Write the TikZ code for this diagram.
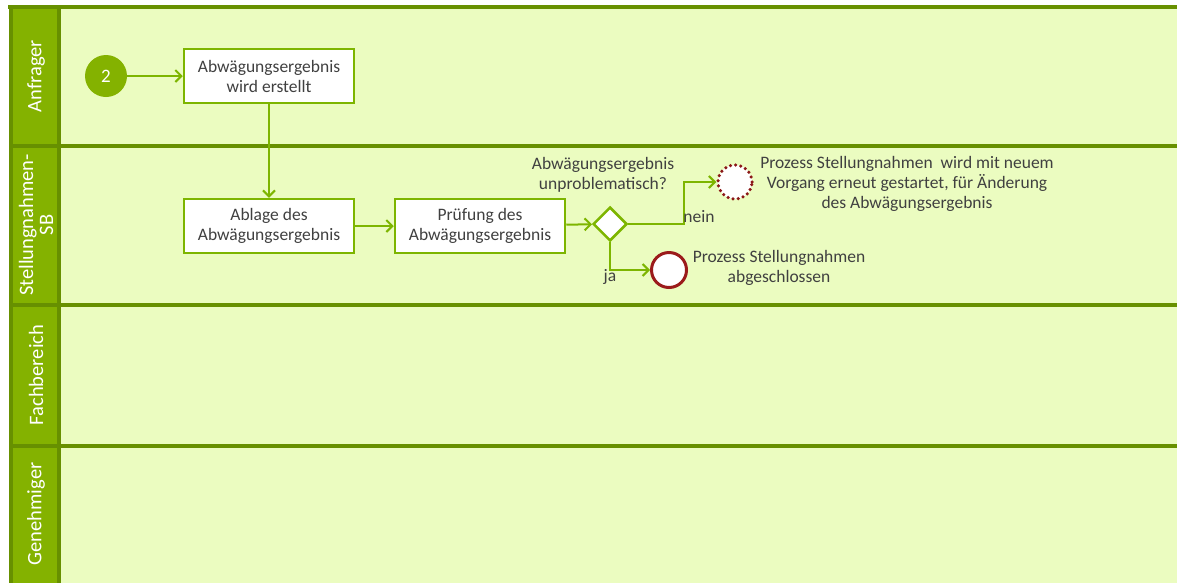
\documentclass[tikz,border=0pt]{standalone}
\usepackage{fontspec}
\setmainfont{Carlito}
\usepackage{xcolor}
\usetikzlibrary{shapes.geometric,arrows.meta,positioning}
\definecolor{lanefill}{HTML}{EBFCC0}
\definecolor{headfill}{HTML}{84B200}
\definecolor{laneline}{HTML}{679000}
\definecolor{flowgreen}{HTML}{7DB500}
\definecolor{endred}{HTML}{9B1B1B}
\definecolor{textgrey}{HTML}{404040}
\tikzstyle{task} = [rectangle, draw=flowgreen, line width=2.5pt, fill=white,
    minimum width=170pt, minimum height=54pt, align=center, text=textgrey,
    font=\fontsize{17.5}{20}\selectfont]
\tikzstyle{gate} = [diamond, draw=flowgreen, line width=2.5pt, fill=white,
    minimum width=34pt, minimum height=34pt, inner sep=0pt]
\tikzstyle{startev} = [circle, fill=headfill, minimum size=42pt, inner sep=0pt,
    text=white, font=\fontsize{19}{20}\selectfont]
\tikzstyle{endev} = [circle, draw=endred, line width=3pt, fill=white,
    minimum size=35pt, inner sep=0pt]
\tikzstyle{label} = [align=center, text=textgrey, font=\fontsize{17.5}{20}\selectfont]
\tikzstyle{lanehead} = [rotate=90, align=center, text=white,
    font=\fontsize{20.5}{20}\selectfont]
\tikzstyle{line} = [draw=flowgreen, line width=2pt,
    -{Straight Barb[length=6pt,width=12pt,line width=2pt]}]

\begin{document}
\begin{tikzpicture}[x=1pt, y=-1pt]
    \useasboundingbox (0,0) rectangle (1177,582);
    % Lanes
    \fill [lanefill] (10,7) rectangle (1190,590);
    \fill [headfill] (10,7) rectangle (59,590);
    \foreach \y in {146,305,446}
        \draw [laneline, line width=4pt] (10,\y) -- (1190,\y);
    \draw [laneline, line width=4pt] (8,7) -- (1190,7);
    \draw [laneline, line width=3.5pt] (11,7) -- (11,590);
    \draw [laneline, line width=3.5pt] (59,7) -- (59,590);

    \node [lanehead] (lane_1) at (36,76) {Anfrager};
    \node [lanehead] (lane_2) at (36,225) {Stellungnahmen-\\SB};
    \node [lanehead] (lane_3) at (36,375) {Fachbereich};
    \node [lanehead] (lane_4) at (36,514) {Genehmiger};

    % Place nodes
    \node [startev] (start) at (106,76) {2};
    \node [task] (node_1) at (269,76) {Abwägungsergebnis\\wird erstellt};
    \node [task] (node_2) at (269,226) {Ablage des\\Abwägungsergebnis};
    \node [task] (node_3) at (480,226) {Prüfung des\\Abwägungsergebnis};
    \node [gate] (check) at (610,224) {};
    \node [label] (check_text) at (603,175) {Abwägungsergebnis\\unproblematisch?};
    \node [endev, draw=endred!90!black, line width=3.5pt, line cap=round,
        dash pattern=on 0pt off 5.2pt, minimum size=34pt] (end_redo) at (735,182) {};
    \node [label] (redo_text) at (907,184) {Prozess Stellungnahmen\ \ wird mit neuem\\Vorgang erneut gestartet, für Änderung\\des Abwägungsergebnis};
    \node [endev] (end_done) at (669,270) {};
    \node [label] (done_text) at (779,268) {Prozess Stellungnahmen\\abgeschlossen};
    \coordinate (bend_nein) at (684,224);

    \path [line] (start) -- (node_1);
    \path [line] (node_1) -- (node_2);
    \path [line] (node_2) -- (node_3);
    \path [line] (node_3) -- (check);
    \path [line] (check.east) -- (bend_nein) |- (end_redo);
    \path [line] (check.south) |- (end_done);

    \node [label] (nein) at (699,217) {nein};
    \node [label] (ja) at (610,277) {ja};

\end{tikzpicture}
\end{document}
